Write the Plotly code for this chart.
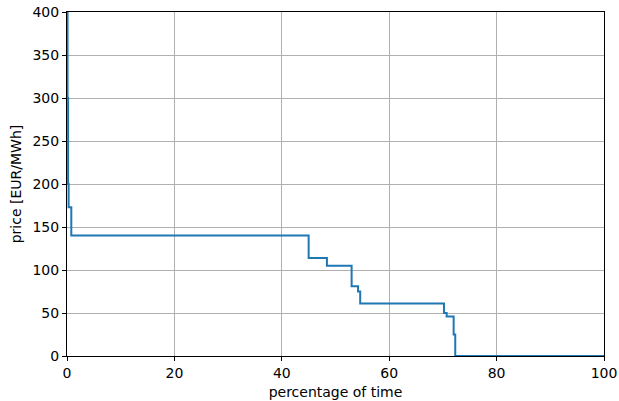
import plotly.graph_objects as go

# duration curve breakpoints (percentage of time) and price levels
pct = [0, 0.1, 0.2, 0.3, 0.8, 45.0, 48.4, 53.0, 54.2, 54.6, 70.2, 70.7, 72.0, 72.3, 100]
price = [450, 300, 200, 173, 140, 114, 105, 81, 75, 61, 50, 46, 25, 0, 0]

x_ticks = [0, 20, 40, 60, 80, 100]
y_ticks = [0, 50, 100, 150, 200, 250, 300, 350, 400]

fig = go.Figure()
fig.add_trace(go.Scatter(x=pct, y=price, mode="lines", line_shape="hv",
                         line=dict(color="#1f77b4", width=2), cliponaxis=True,
                         showlegend=False))

FS = 14
axis_common = dict(showline=True, linecolor="black", linewidth=1, mirror=True,
                   ticks="outside", ticklen=4, tickwidth=1, tickcolor="black",
                   showgrid=True, gridcolor="#b0b0b0", gridwidth=1, zeroline=False,
                   automargin=False, ticklabeloverflow="allow",
                   tickfont=dict(family="DejaVu Sans", size=FS, color="black"))

fig.update_layout(
    width=619, height=401,
    margin=dict(l=67, r=15, t=12, b=45),
    plot_bgcolor="white", paper_bgcolor="white",
    font=dict(family="DejaVu Sans", size=FS, color="black"),
    xaxis=dict(range=[0, 100], tickvals=x_ticks,
               title=dict(text="percentage of time", standoff=7,
                          font=dict(family="DejaVu Sans", size=FS, color="black")),
               **axis_common),
    yaxis=dict(range=[0, 400], tickvals=y_ticks,
               title=dict(text="price [EUR/MWh]", standoff=7,
                          font=dict(family="DejaVu Sans", size=FS, color="black")),
               **axis_common),
)

fig.write_html("out.html", config={"displayModeBar": False},
               post_script="document.body.style.margin='0';")
